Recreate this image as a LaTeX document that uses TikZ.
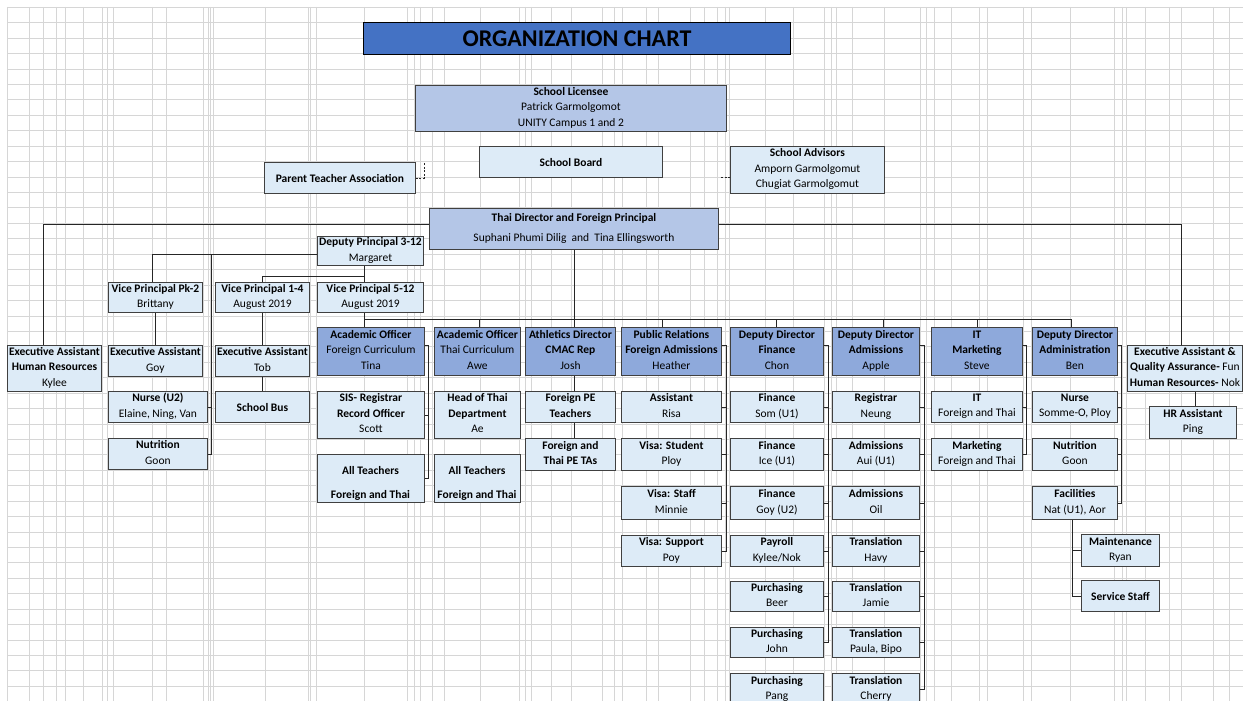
\documentclass[tikz,border=0pt]{standalone}
\usepackage{fontspec}
\setmainfont{Carlito}
\definecolor{lightb}{HTML}{DDEBF7}
\definecolor{midb}{HTML}{B4C6E7}
\definecolor{darkb}{HTML}{8EA9DB}
\definecolor{titleb}{HTML}{4472C4}
\definecolor{gridc}{HTML}{D6D6D6}
\newcommand{\B}[1]{\textbf{#1}}
\newcommand{\topstr}{\rule{0pt}{12.4pt}}
\newcommand{\botstr}{\rule[-3.1pt]{0pt}{3.1pt}}
\newcommand{\obox}[7]{\node[#6, minimum width={(#4-#2)*1pt}, minimum height={(#5-#3)*1pt}] (#1) at (#2,#3) {#7};}
\tikzset{
  gridl/.style={draw=gridc, line width=0.8pt},
  bx/.style={draw=black!75, line width=0.9pt, align=center, inner sep=0pt, anchor=north west,
    font=\fontsize{11.5}{15.5}\selectfont, execute at begin node=\topstr, execute at end node=\botstr},
  lt/.style={bx, fill=lightb},
  md/.style={bx, fill=midb},
  dk/.style={bx, fill=darkb},
  ttl/.style={draw=black, line width=1pt, fill=titleb, anchor=north west, inner sep=0pt,
    font=\fontsize{24}{26}\selectfont\bfseries},
  txt/.style={align=center, inner sep=0pt, font=\fontsize{11.5}{15.5}\selectfont,
    execute at begin node=\topstr, execute at end node=\botstr},
  conn/.style={draw=black!85, line width=0.8pt},
  dconn/.style={conn, dash pattern=on 2pt off 1.5pt}
}
\begin{document}
\begin{tikzpicture}[x=1pt,y=-1pt]
\useasboundingbox (0,0) rectangle (1243,701);
\clip (0,0) rectangle (1243,701);
\fill[white] (0,0) rectangle (1243,701);
% spreadsheet grid
\foreach \k in {0,...,44} \draw[gridl] (7,{7.3+15.43*\k}) -- (1243,{7.3+15.43*\k});
\foreach \x in {7,29,43,56,65,83,102,107,113,152,166,203,208,210,213,265,308,310,316,364,407,414,420,432,444,480,519,525,531,551,571,602,614,622,646,658,690,704,717,725,729,765,793,824,831,836,852,884,920,926,934,951,979,987,1023,1031,1070,1114,1122,1126,1145,1169,1181,1213,1229}
  \draw[gridl] (\x,7) -- (\x,701);

% boxes
\obox{title}{363}{22}{790}{54}{ttl}{ORGANIZATION CHART}
\obox{lic}{415}{85}{726}{131}{md}{\B{School Licensee}\\Patrick Garmolgomot\\UNITY Campus 1 and 2}
\obox{board}{479}{146}{662}{177}{lt}{\B{School Board}}
\obox{pta}{264}{162}{415}{193}{lt}{\B{Parent Teacher Association}}
\obox{adv}{730}{146}{884}{193}{lt}{\B{School Advisors}\\Amporn Garmolgomut\\Chugiat Garmolgomut}
\obox{td}{429}{208}{718}{249}{md}{\B{Thai Director and Foreign Principal}\\[5pt]Suphani Phumi Dilig\ \ and\ \ Tina Ellingsworth}
\obox{dp}{317}{236}{423}{265}{lt}{\B{Deputy Principal 3-12}\\Margaret}
\obox{vpk}{108}{282}{202}{312}{lt}{\B{Vice Principal Pk-2}\\Brittany}
\obox{vp14}{215}{282}{309}{312}{lt}{\B{Vice Principal 1-4}\\August 2019}
\obox{vp512}{317}{282}{423}{312}{lt}{\B{Vice Principal 5-12}\\August 2019}
\obox{eahr}{7}{345}{101}{391}{lt}{\B{Executive Assistant}\\\B{Human Resources}\\Kylee}
\obox{eagoy}{108}{345}{202}{376}{lt}{\B{Executive Assistant}\\Goy}
\obox{nurse2}{108}{391}{207}{422}{lt}{\B{Nurse (U2)}\\Elaine, Ning, Van}
\obox{nutr2}{108}{438}{207}{469}{lt}{\B{Nutrition}\\Goon}
\obox{eatob}{215}{345}{309}{376}{lt}{\B{Executive Assistant}\\Tob}
\obox{bus}{215}{391}{309}{422}{lt}{\B{School Bus}}

\obox{ao1}{317}{327}{424}{375}{dk}{\B{Academic Officer}\\Foreign Curriculum\\Tina}
\obox{ao2}{434}{327}{520}{375}{dk}{\B{Academic Officer}\\Thai Curriculum\\Awe}
\obox{ath}{525}{327}{615}{375}{dk}{\B{Athletics Director}\\\B{CMAC Rep}\\Josh}
\obox{pr}{621}{327}{721}{375}{dk}{\B{Public Relations}\\\B{Foreign Admissions}\\Heather}
\obox{ddf}{730}{327}{823}{375}{dk}{\B{Deputy Director}\\\B{Finance}\\Chon}
\obox{dda}{832}{327}{919}{375}{dk}{\B{Deputy Director}\\\B{Admissions}\\Apple}
\obox{itm}{931}{327}{1022}{375}{dk}{\B{IT}\\\B{Marketing}\\Steve}
\obox{ddad}{1032}{327}{1117}{375}{dk}{\B{Deputy Director}\\\B{Administration}\\Ben}
\obox{eaqa}{1127}{345}{1242}{391}{lt}{\B{Executive Assistant \&}\\\B{Quality Assurance-} Fun\\\B{Human Resources-} Nok}
\obox{hra}{1149}{406}{1236}{438}{lt}{\B{HR Assistant}\\Ping}

\obox{sis}{317}{391}{424}{438}{lt}{\B{SIS- Registrar}\\\B{Record Officer}\\Scott}
\obox{allt1}{317}{454}{424}{502}{lt}{}
\node[txt] (allt1t) at (370.5,484) {\B{All Teachers}\\[8.5pt]\B{Foreign and Thai}};
\obox{hot}{434}{391}{520}{438}{lt}{\B{Head of Thai}\\\B{Department}\\Ae}
\obox{allt2}{434}{454}{520}{502}{lt}{}
\node[txt] (allt2t) at (477,484) {\B{All Teachers}\\[8.5pt]\B{Foreign and Thai}};
\obox{fpe}{525}{391}{615}{422}{lt}{\B{Foreign PE}\\\B{Teachers}}
\obox{peta}{525}{438}{615}{470}{lt}{\B{Foreign and}\\\B{Thai PE TAs}}

\obox{assist}{621}{391}{721}{422}{lt}{\B{Assistant}\\Risa}
\obox{visastu}{621}{438}{721}{470}{lt}{\B{Visa: Student}\\Ploy}
\obox{visastf}{621}{486}{721}{519}{lt}{\B{Visa: Staff}\\Minnie}
\obox{visasup}{621}{535}{721}{566}{lt}{\B{Visa: Support}\\Poy}

\obox{fin1}{730}{391}{823}{422}{lt}{\B{Finance}\\Som (U1)}
\obox{fin2}{730}{438}{823}{470}{lt}{\B{Finance}\\Ice (U1)}
\obox{fin3}{730}{486}{823}{519}{lt}{\B{Finance}\\Goy (U2)}
\obox{pay}{730}{535}{823}{566}{lt}{\B{Payroll}\\Kylee/Nok}
\obox{pur1}{730}{581}{823}{611}{lt}{\B{Purchasing}\\Beer}
\obox{pur2}{730}{627}{823}{657}{lt}{\B{Purchasing}\\John}
\obox{pur3}{730}{673}{823}{705}{lt}{\B{Purchasing}\\Pang}

\obox{reg}{832}{391}{919}{422}{lt}{\B{Registrar}\\Neung}
\obox{adm1}{832}{438}{919}{470}{lt}{\B{Admissions}\\Aui (U1)}
\obox{adm2}{832}{486}{919}{519}{lt}{\B{Admissions}\\Oil}
\obox{tr1}{832}{535}{919}{566}{lt}{\B{Translation}\\Havy}
\obox{tr2}{832}{581}{919}{611}{lt}{\B{Translation}\\Jamie}
\obox{tr3}{832}{627}{919}{657}{lt}{\B{Translation}\\Paula, Bipo}
\obox{tr4}{832}{673}{919}{705}{lt}{\B{Translation}\\Cherry}

\obox{it}{931}{391}{1022}{422}{lt}{\B{IT}\\Foreign and Thai}
\obox{mkt}{931}{438}{1022}{470}{lt}{\B{Marketing}\\Foreign and Thai}

\obox{nurse}{1032}{391}{1117}{422}{lt}{\B{Nurse}\\Somme-O, Ploy}
\obox{nutr}{1032}{438}{1117}{470}{lt}{\B{Nutrition}\\Goon}
\obox{facil}{1032}{486}{1117}{519}{lt}{\B{Facilities}\\Nat (U1), Aor}
\obox{maint}{1081}{534}{1159}{566}{lt}{\B{Maintenance}\\Ryan}
\obox{svc}{1081}{580}{1159}{611}{lt}{\B{Service Staff}}

% dashed stubs
\coordinate (ptad) at (424,162);
\draw[dconn] (pta.east) -- (pta.east -| ptad) -- (ptad);
\coordinate (advd) at (721,177);
\draw[dconn] (adv.west |- advd) -- (advd);

% top director side lines
\coordinate (jl) at (43,224);
\draw[conn] (td.west |- jl) -- (jl) -- (jl |- eahr.north);
\coordinate (jr) at (1181,224);
\draw[conn] (td.east |- jr) -- (jr) -- (jr |- eaqa.north);

% deputy principal
\coordinate (dpl) at (152,254);
\draw[conn] (dp.west |- dpl) -- (dpl) -- (dpl |- vpk.north);
\coordinate (dpv) at (211,254);
\draw[conn] (dpv) -- (dpv |- nutr2.east) -- (nutr2.east);
\draw[conn] (dpv |- nurse2.east) -- (nurse2.east);
\coordinate (dpb) at (364,276);
\draw[conn] (dp.south -| dpb) -- (dpb |- vp512.north);
\draw[conn] (dpb) -| (vp14.north);
\draw[conn] (vpk.south) -- (eagoy.north);
\draw[conn] (vp14.south) -- (eatob.north);
\draw[conn] (eatob.south) -- (bus.north);

% main spine
\coordinate (hL) at (364,319);
\coordinate (hR) at (1071,319);
\draw[conn] (td.south) -- (td.south |- hL);
\draw[conn] (vp512.south -| hL) -- (hL) -- (hR);
\draw[conn] (hL) -- (hL |- ao1.north);
\foreach \n/\x in {ao2/479, ath/574, pr/662, ddf/776, dda/883, itm/977, ddad/1071} {
  \coordinate (tk) at (\x,319);
  \draw[conn] (tk) -- (tk |- \n.north);
}

% academic officer foreign
\coordinate (c1) at (428,345);
\draw[conn] (ao1.east |- c1) -- (c1) -- (c1 |- allt1.east) -- (allt1.east);
\draw[conn] (c1 |- sis.east) -- (sis.east);

% athletics
\coordinate (ax) at (574,0);
\draw[conn] (ath.south -| ax) -- (fpe.north -| ax);
\draw[conn] (fpe.south -| ax) -- (peta.north -| ax);

% public relations
\coordinate (cpr) at (726,345);
\draw[conn] (pr.east |- cpr) -- (cpr) -- (cpr |- visasup.east) -- (visasup.east);
\foreach \n in {assist, visastu, visastf} \draw[conn] (cpr |- \n.east) -- (\n.east);

% finance
\coordinate (cdf) at (828,345);
\draw[conn] (ddf.east |- cdf) -- (cdf) -- (cdf |- pur2.east) -- (pur2.east);
\foreach \n in {fin1, fin2, fin3, pay, pur1} \draw[conn] (cdf |- \n.east) -- (\n.east);

% admissions
\coordinate (cda) at (924,345);
\draw[conn] (dda.east |- cda) -- (cda) -- (cda |- tr4.east) -- (tr4.east);
\foreach \n in {reg, adm1, adm2, tr1, tr2, tr3} \draw[conn] (cda |- \n.east) -- (\n.east);

% IT marketing
\coordinate (cit) at (1026,345);
\draw[conn] (itm.east |- cit) -- (cit) -- (cit |- mkt.east) -- (mkt.east);
\draw[conn] (cit |- it.east) -- (it.east);

% administration
\coordinate (cad) at (1121,345);
\draw[conn] (ddad.east |- cad) -- (cad) -- (cad |- facil.east) -- (facil.east);
\foreach \n in {nurse, nutr} \draw[conn] (cad |- \n.east) -- (\n.east);

% facilities
\coordinate (fx) at (1072,0);
\draw[conn] (facil.south -| fx) -- (fx |- svc.west) -- (svc.west);
\draw[conn] (fx |- maint.west) -- (maint.west);

% EA & QA to HR assistant
\coordinate (hx) at (1195,0);
\draw[conn] (eaqa.south -| hx) -- (hra.north -| hx);
\end{tikzpicture}
\end{document}
